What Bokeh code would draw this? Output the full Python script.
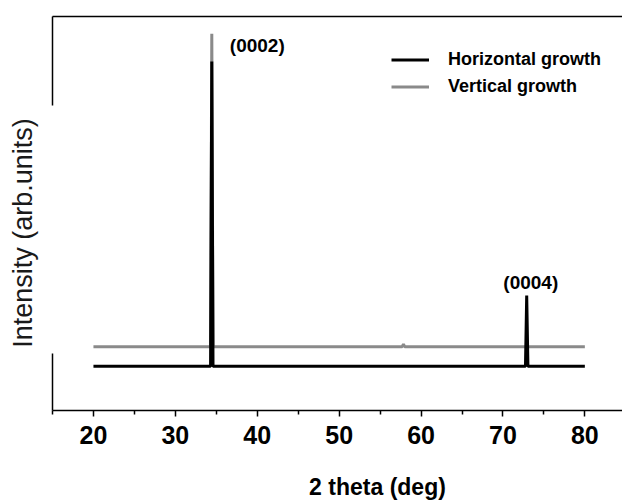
from bokeh.plotting import figure
from bokeh.models import Range1d, FixedTicker, LinearAxis, Label, Legend, LegendItem
from bokeh.embed import file_html
from bokeh.resources import INLINE

# Data (arbitrary intensity units, offset traces)
h_theta = [20, 34.30, 34.45, 34.60, 72.75, 72.90, 73.05, 80]
h_int = [11.2, 11.2, 88.6, 11.2, 11.2, 29.2, 11.2, 11.2]

v_theta = [20, 34.30, 34.45, 34.60, 57.70, 57.85, 58.00, 72.80, 72.90, 73.00, 80]
v_int = [16.2, 16.2, 95.6, 16.2, 16.2, 16.8, 16.2, 16.2, 16.6, 16.2, 16.2]

major_ticks = [20, 30, 40, 50, 60, 70, 80]
minor_ticks = [15, 25, 35, 45, 55, 65, 75]

peak_labels = ["(0002)", "(0004)"]
peak_label_x = [36.65, 73.4]
peak_label_y = [92.6, 32.6]

x_title = "2 theta (deg)"
y_title = "Intensity (arb.units)"

FONT = "Liberation Sans"

# axes box of the original chart (data units)
X0, X1 = 15, 84.6
Y0, Y1 = 0, 100

# the frame fills the whole figure; axes are pinned to the data box
p = figure(width=622, height=502, output_backend="svg", toolbar_location=None,
           x_range=Range1d(8.651, 84.597), y_range=Range1d(-23.35, 104.06),
           min_border=0, min_border_left=0, min_border_right=0,
           min_border_top=0, min_border_bottom=0)
p.outline_line_color = None
p.xgrid.visible = False
p.ygrid.visible = False
p.background_fill_color = "white"
p.border_fill_color = "white"


def bare_axis(**kw):
    ax = LinearAxis(ticker=FixedTicker(ticks=[]), major_label_text_font_size="0px",
                    major_tick_line_color=None, minor_tick_line_color=None,
                    major_tick_out=0, minor_tick_out=0,
                    major_label_standoff=0, axis_line_width=1.5, axis_line_color="black")
    for k, v in kw.items():
        setattr(ax, k, v)
    return ax


# x axis
xa = p.xaxis[0]
xa.fixed_location = Y0
xa.bounds = (X0, X1)
xa.ticker = FixedTicker(ticks=major_ticks, minor_ticks=minor_ticks)
xa.axis_line_width = 1.5
xa.axis_line_color = "black"
xa.major_tick_line_color = "black"
xa.major_tick_line_width = 1.5
xa.major_tick_out = 6
xa.major_tick_in = 0
xa.minor_tick_line_color = "black"
xa.minor_tick_line_width = 1.5
xa.minor_tick_out = 4
xa.minor_tick_in = 0
xa.major_label_text_font = FONT
xa.major_label_text_font_style = "bold"
xa.major_label_text_font_size = "25px"
xa.major_label_text_color = "black"
xa.major_label_standoff = 9

# y axis: lower part of the left border (the title box hides the middle)
ya = p.yaxis[0]
ya.fixed_location = X0
ya.bounds = (Y0, 14.5)
ya.ticker = FixedTicker(ticks=[])
ya.axis_line_width = 1.5
ya.axis_line_color = "black"
ya.major_tick_line_color = None
ya.minor_tick_line_color = None
ya.major_tick_out = 0
ya.minor_tick_out = 0
ya.major_label_text_font_size = "0px"
ya.major_label_standoff = 0

# upper part of the left border
p.add_layout(bare_axis(fixed_location=X0, bounds=(77.4, Y1)), "left")
# top border
p.add_layout(bare_axis(fixed_location=Y1, bounds=(X0, X1)), "above")

rv = p.line(v_theta, v_int, line_color="#8a8a8a", line_width=3)
rh = p.line(h_theta, h_int, line_color="black", line_width=3)

legend = Legend(items=[LegendItem(label="Horizontal growth", renderers=[rh]),
                       LegendItem(label="Vertical growth", renderers=[rv])],
                location=(391, 405), padding=0, margin=0, spacing=6,
                glyph_width=38, glyph_height=21, label_height=21, label_standoff=19,
                label_text_font=FONT, label_text_font_style="bold",
                label_text_font_size="18px", label_text_color="black",
                border_line_color=None, background_fill_alpha=0)
p.add_layout(legend)

for t, x, y in zip(peak_labels, peak_label_x, peak_label_y):
    p.add_layout(Label(x=x, y=y, text=t, text_font=FONT, text_font_style="bold",
                       text_font_size="19px", text_color="black",
                       text_align="left" if t == "(0002)" else "center",
                       text_baseline="middle"))

p.add_layout(Label(x=11.40, y=45.05, text=y_title, angle=90, angle_units="deg",
                   text_font=FONT, text_font_size="27px", text_font_style="normal",
                   text_color="#1a1a1a", text_align="center",
                   text_baseline="alphabetic"))

p.add_layout(Label(x=54.68, y=-19.3, text=x_title, text_font=FONT,
                   text_font_style="bold", text_font_size="23px", text_color="black",
                   text_align="center", text_baseline="alphabetic"))

open("out.html", "w").write(file_html(p, INLINE))
